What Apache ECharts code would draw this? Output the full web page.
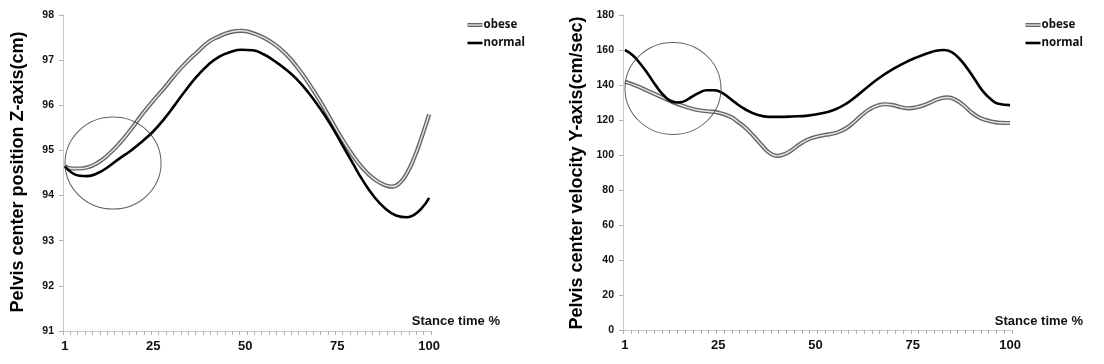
<!DOCTYPE html>
<html>
<head>
<meta charset="utf-8">
<script src="https://cdn.jsdelivr.net/npm/echarts@6/dist/echarts.min.js"></script>
<style>
html,body{margin:0;padding:0;background:#fff;}
#c{width:1104px;height:364px;}
</style>
</head>
<body>
<div id="c"></div>
<script>
// ---- data ----
const xTickLabels = [1, 25, 50, 75, 100];
const seriesNames = ['obese', 'normal'];

// Left chart: Pelvis center position Z-axis (cm)
const leftObeseX = [1,3,5,7,10,13,16,19,22,25,28,31,34,37,40,43,46,49,52,55,58,61,64,67,70,73,76,79,82,85,88,90,92,94,96,98,100];
const leftObeseY = [94.65,94.6,94.6,94.62,94.73,94.92,95.17,95.47,95.8,96.1,96.38,96.68,96.95,97.18,97.4,97.53,97.62,97.65,97.6,97.5,97.35,97.14,96.86,96.52,96.14,95.72,95.3,94.92,94.6,94.37,94.23,94.2,94.28,94.5,94.85,95.3,95.8];
const leftNormalX = [1,3,5,7,10,13,16,19,22,25,28,31,34,37,40,43,46,49,52,55,58,61,64,67,70,73,76,79,82,85,88,91,94,96,98,100];
const leftNormalY = [94.65,94.5,94.44,94.43,94.5,94.65,94.83,95.0,95.2,95.42,95.7,96.02,96.35,96.65,96.9,97.08,97.18,97.23,97.22,97.13,96.98,96.8,96.58,96.3,95.97,95.6,95.18,94.75,94.33,93.98,93.72,93.56,93.52,93.58,93.72,93.95];
const leftCircle = [14.1, 94.72];

// Right chart: Pelvis center velocity Y-axis (cm/sec)
const rightObeseX = [1,4,7,10,13,16,19,22,25,28,30,32,34,36,38,40,42,44,46,48,50,52,54,56,58,60,62,64,66,68,70,72,74,76,78,80,82,84,86,88,90,92,94,96,98,100];
const rightObeseY = [141.8,139.5,136.5,133.5,130.5,128,126,125,124.2,122,119,115.5,111,106,101.5,99.5,100.5,103,106.3,108.8,110.3,111.3,112,113.2,115.5,119,123,126.3,128.3,129,128.5,127.3,126.7,127.3,128.6,130.5,132.3,132.9,131.5,128.5,124.5,121.5,119.8,118.8,118.4,118.3];
const rightNormalX = [1,3,5,7,9,11,13,14.5,16,18,20,22,24,26,29,32,35,38,41,44,48,52,55,58,61,64,67,70,73,76,79,81,83,85,87,89,91,93,95,97,100];
const rightNormalY = [160,157,152,146,139.5,134,130.5,130,130.5,133,135.5,137,137,135.5,130.5,126,123,121.8,121.8,122,122.5,124,126,129.5,134.5,140,145,149.2,152.8,155.8,158.3,159.6,160,158.8,155,149.5,143,136.5,132,129.3,128.5];
const rightCircle = [13.35, 138];

const leftYTitle = 'Pelvis center position Z-axis(cm)';
const rightYTitle = 'Pelvis center velocity Y-axis(cm/sec)';
const xTitle = 'Stance time %';

// ---- build ----
function pairs(xs, ys){ return xs.map((x,i)=>[x, ys[i]]); }
const tickPositions = [];
for (let t = 0.5; t <= 100.5; t += 2) tickPositions.push(t);

const bold = 'Liberation Sans, Arial, sans-serif';
const SM = 0.5;

function xAxisCfg(gi){
  return {
    gridIndex: gi, type: 'value', min: 0.5, max: 100.5,
    axisLine: {show: true, lineStyle: {color: '#c8c8c8', width: 1}},
    axisTick: {show: true, customValues: tickPositions, length: 4, lineStyle: {color: '#b0b0b0'}},
    axisLabel: {customValues: xTickLabels, fontFamily: bold, fontWeight: 'bold', fontSize: 13, color: '#111', margin: 9},
    splitLine: {show: false}
  };
}
function yAxisCfg(gi, min, max, interval){
  return {
    gridIndex: gi, type: 'value', min: min, max: max, interval: interval,
    axisLine: {show: true, lineStyle: {color: '#c8c8c8', width: 1}},
    axisTick: {show: true, length: 4, lineStyle: {color: '#b0b0b0'}},
    axisLabel: {fontFamily: bold, fontWeight: 'bold', fontSize: 10.5, color: '#111', margin: 9},
    splitLine: {show: false}
  };
}
function obeseSeries(idx, xs, ys){
  return [
    {name: seriesNames[0], type: 'line', xAxisIndex: idx, yAxisIndex: idx, data: pairs(xs, ys), smooth: SM,
     showSymbol: false, lineStyle: {color: '#666', width: 4.2}, z: 3, silent: true},
    {name: seriesNames[0] + '-inner', type: 'line', xAxisIndex: idx, yAxisIndex: idx, data: pairs(xs, ys), smooth: SM,
     showSymbol: false, lineStyle: {color: '#e6e6e6', width: 1.4}, z: 4, silent: true}
  ];
}
function normalSeries(idx, xs, ys){
  return {name: seriesNames[1], type: 'line', xAxisIndex: idx, yAxisIndex: idx, data: pairs(xs, ys), smooth: SM,
    showSymbol: false, lineStyle: {color: '#000', width: 2.6}, z: 5, silent: true};
}
function circleSeries(idx, c){
  return {type: 'scatter', xAxisIndex: idx, yAxisIndex: idx, data: [c], symbol: 'circle', symbolSize: [96, 92],
    itemStyle: {color: 'rgba(0,0,0,0)', borderColor: '#3a3a3a', borderWidth: 1}, z: 6, silent: true};
}

function legendGroup(x, y){
  const lf = {fontFamily: 'Noto Sans, sans-serif', fontWeight: 'bold', fontSize: 11.5, fill: '#111'};
  return {
    type: 'group', left: x, top: y, silent: true,
    children: [
      {type: 'line', shape: {x1: 0, y1: 6, x2: 15, y2: 6}, style: {stroke: '#666', lineWidth: 4}},
      {type: 'line', shape: {x1: 0, y1: 6, x2: 15, y2: 6}, style: {stroke: '#e6e6e6', lineWidth: 1.3}},
      {type: 'text', x: 16, y: 6, style: Object.assign({text: seriesNames[0], textVerticalAlign: 'middle'}, lf)},
      {type: 'line', shape: {x1: 0, y1: 24, x2: 15, y2: 24}, style: {stroke: '#000', lineWidth: 2.6}},
      {type: 'text', x: 16, y: 24, style: Object.assign({text: seriesNames[1], textVerticalAlign: 'middle'}, lf)}
    ]
  };
}

const titleStyle = {fontFamily: bold, fontWeight: 'bold', fontSize: 18, fill: '#000', textAlign: 'center', textVerticalAlign: 'middle'};
const xTitleStyle = {fontFamily: bold, fontWeight: 'bold', fontSize: 13, fill: '#111', textAlign: 'right', textVerticalAlign: 'middle'};

const option = {
  animation: false,
  backgroundColor: '#fff',
  grid: [
    {left: 63, top: 15, width: 368, height: 316},
    {left: 623, top: 15, width: 389, height: 315}
  ],
  xAxis: [xAxisCfg(0), xAxisCfg(1)],
  yAxis: [yAxisCfg(0, 91, 98, 1), yAxisCfg(1, 0, 180, 20)],
  series: [].concat(
    obeseSeries(0, leftObeseX, leftObeseY), [normalSeries(0, leftNormalX, leftNormalY), circleSeries(0, leftCircle)],
    obeseSeries(1, rightObeseX, rightObeseY), [normalSeries(1, rightNormalX, rightNormalY), circleSeries(1, rightCircle)]
  ),
  graphic: [
    legendGroup(465, 19),
    legendGroup(1023, 19),
    {type: 'text', x: 18, y: 172, rotation: Math.PI/2, style: Object.assign({text: leftYTitle}, titleStyle), silent: true},
    {type: 'text', x: 577, y: 173, rotation: Math.PI/2, style: Object.assign({text: rightYTitle}, titleStyle), silent: true},
    {type: 'text', x: 500, y: 321, style: Object.assign({text: xTitle}, xTitleStyle), silent: true},
    {type: 'text', x: 1083, y: 321, style: Object.assign({text: xTitle}, xTitleStyle), silent: true}
  ]
};

const chart = echarts.init(document.getElementById('c'), null, {renderer: 'canvas'});
chart.setOption(option);
</script>
</body>
</html>
